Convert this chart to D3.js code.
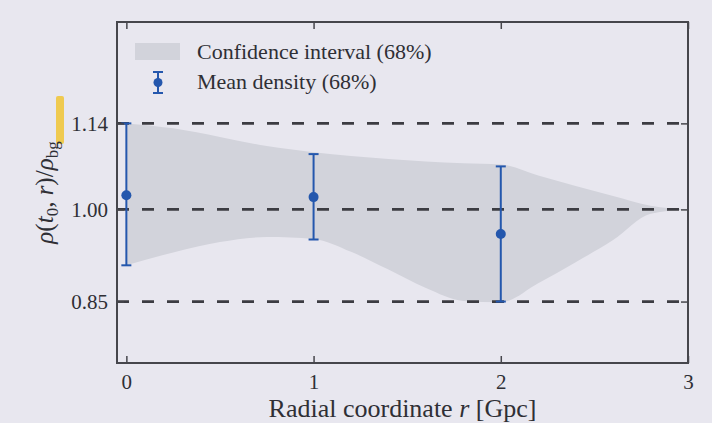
<!DOCTYPE html>
<html>
<head>
<meta charset="utf-8">
<script src="https://cdn.jsdelivr.net/npm/d3@7"></script>
<style>
    body { margin: 0; background: #e8e7ef; }
    svg { display: block; }
    svg text { font-family: "Liberation Serif", "Times New Roman", serif; }
</style>
</head>
<body>
<div id="chart"></div>
<script>
// radial coordinate samples for the shaded band (Gpc)
const bandR = [0, 0.25, 0.5, 0.75, 1.0, 1.2, 1.4, 1.6, 1.8, 2.0, 2.2, 2.4, 2.6, 2.8, 3.0];
const bandHigh = [1.140, 1.132, 1.118, 1.103, 1.093, 1.087, 1.082, 1.078, 1.075, 1.073, 1.055, 1.038, 1.022, 1.006, 1.0];
const bandLow = [0.909, 0.930, 0.947, 0.955, 0.952, 0.931, 0.902, 0.872, 0.851, 0.849, 0.880, 0.914, 0.950, 0.993, 1.0];

// mean density points with 68% error bars
const meanR = [0, 1, 2];
const meanVal = [1.023, 1.020, 0.960];
const meanLow = [0.909, 0.951, 0.850];
const meanHigh = [1.140, 1.090, 1.070];

const xTicks = [0, 1, 2, 3];
const yTicks = [0.85, 1.00, 1.14];
const refLines = [0.85, 1.00, 1.14];

const legendLabels = ['Confidence interval (68%)', 'Mean density (68%)'];

const COLORS = {
    bg: '#e8e7ef',
    band: '#d2d3db',
    frame: '#46464c',
    dash: '#3c3c42',
    text: '#2f2f35',
    blue: '#2457ad',
    marker: '#f0c63e'
}

const W = 712, H = 423;
const margin = { left: 117, right: 24, top: 22, bottom: 60 };

var svg = d3.select('#chart').append('svg')
    .attr('width', W)
    .attr('height', H);

svg.append('rect')
    .attr('width', W)
    .attr('height', H)
    .style('fill', COLORS.bg);

var x = d3.scaleLinear().domain([-0.05, 3]).range([margin.left, W - margin.right]);
var y = d3.scaleLinear().domain([0.75, 1.305]).range([H - margin.bottom, margin.top]);

// shaded confidence band
var bandData = bandR.map((r, i) => ({ r: r, lo: bandLow[i], hi: bandHigh[i] }));
var area = d3.area()
    .x(d => x(d.r))
    .y0(d => y(d.lo))
    .y1(d => y(d.hi))
    .curve(d3.curveMonotoneX);

svg.append('path')
    .datum(bandData)
    .attr('d', area)
    .style('fill', COLORS.band)
    .style('stroke', 'none');

// dashed reference lines
svg.selectAll('.refLine')
    .data(refLines)
    .enter()
    .append('line')
    .attr('class', 'refLine')
    .attr('x1', x.range()[0])
    .attr('x2', x.range()[1])
    .attr('y1', d => y(d))
    .attr('y2', d => y(d))
    .style('stroke', COLORS.dash)
    .style('stroke-width', 2.8)
    .style('stroke-dasharray', '12,13');

// error bars
var meanData = meanR.map((r, i) => ({ r: r, v: meanVal[i], lo: meanLow[i], hi: meanHigh[i] }));
var bars = svg.selectAll('.errBar')
    .data(meanData)
    .enter()
    .append('g')
    .attr('class', 'errBar');

bars.append('line')
    .attr('x1', d => x(d.r)).attr('x2', d => x(d.r))
    .attr('y1', d => y(d.lo)).attr('y2', d => y(d.hi))
    .style('stroke', COLORS.blue)
    .style('stroke-width', 2);

['lo', 'hi'].forEach(k => {
    bars.append('line')
        .attr('x1', d => x(d.r) - 5).attr('x2', d => x(d.r) + 5)
        .attr('y1', d => y(d[k])).attr('y2', d => y(d[k]))
        .style('stroke', COLORS.blue)
        .style('stroke-width', 2);
});

bars.append('circle')
    .attr('cx', d => x(d.r))
    .attr('cy', d => y(d.v))
    .attr('r', 5)
    .style('fill', COLORS.blue);

// axes, ticks pointing inward
var xAxis = svg.append('g')
    .attr('transform', 'translate(0,' + y.range()[0] + ')')
    .call(d3.axisBottom(x).tickValues(xTicks).tickSize(-7).tickPadding(11).tickFormat(d3.format('d')));
var xAxisTop = svg.append('g')
    .attr('transform', 'translate(0,' + y.range()[1] + ')')
    .call(d3.axisTop(x).tickValues(xTicks).tickSize(-7).tickFormat(''));
var yAxis = svg.append('g')
    .attr('transform', 'translate(' + x.range()[0] + ',0)')
    .call(d3.axisLeft(y).tickValues(yTicks).tickSize(-7).tickPadding(9).tickFormat(d3.format('.2f')));
var yAxisRight = svg.append('g')
    .attr('transform', 'translate(' + x.range()[1] + ',0)')
    .call(d3.axisRight(y).tickValues(yTicks).tickSize(-7).tickFormat(''));

[xAxis, xAxisTop, yAxis, yAxisRight].forEach(g => {
    g.attr('font-family', null);
    g.select('.domain').remove();
    g.selectAll('.tick line').style('stroke', COLORS.frame).style('stroke-width', 1.5);
    g.selectAll('.tick text')
        .style('font-size', '21px')
        .style('fill', COLORS.text);
});

// frame
svg.append('rect')
    .attr('x', x.range()[0])
    .attr('y', y.range()[1])
    .attr('width', x.range()[1] - x.range()[0])
    .attr('height', y.range()[0] - y.range()[1])
    .style('fill', 'none')
    .style('stroke', COLORS.frame)
    .style('stroke-width', 2);

// axis titles
var xTitle = svg.append('text')
    .attr('x', (x.range()[0] + x.range()[1]) / 2)
    .attr('y', 417)
    .attr('text-anchor', 'middle')
    .style('font-size', '26px')
    .style('fill', COLORS.text);
xTitle.append('tspan').text('Radial coordinate ');
xTitle.append('tspan').style('font-style', 'italic').text('r');
xTitle.append('tspan').text(' [Gpc]');

// highlighter mark on the printed page
svg.append('rect')
    .attr('x', 56)
    .attr('y', 96)
    .attr('width', 8)
    .attr('height', 48)
    .attr('rx', 2)
    .style('fill', COLORS.marker)
    .style('opacity', 0.9);

var yTitle = svg.append('text')
    .attr('transform', 'translate(53,' + ((y.range()[0] + y.range()[1]) / 2) + ') rotate(-90)')
    .attr('text-anchor', 'middle')
    .style('font-size', '25px')
    .style('fill', COLORS.text);
yTitle.append('tspan').style('font-style', 'italic').text('ρ');
yTitle.append('tspan').text('(');
yTitle.append('tspan').style('font-style', 'italic').text('t');
yTitle.append('tspan').attr('dy', 5).style('font-size', '17px').text('0');
yTitle.append('tspan').attr('dy', -5).text(', ');
yTitle.append('tspan').style('font-style', 'italic').text('r');
yTitle.append('tspan').text(')/');
yTitle.append('tspan').style('font-style', 'italic').text('ρ');
yTitle.append('tspan').attr('dy', 5).style('font-size', '17px').text('bg');

// legend
var legend = svg.append('g').attr('class', 'legend');
legend.append('rect')
    .attr('x', 135).attr('y', 43)
    .attr('width', 45).attr('height', 17)
    .style('fill', COLORS.band);

var lx = 158;
legend.append('line')
    .attr('x1', lx).attr('x2', lx).attr('y1', 72).attr('y2', 93)
    .style('stroke', COLORS.blue).style('stroke-width', 2);
[72, 93].forEach(cy => {
    legend.append('line')
        .attr('x1', lx - 5).attr('x2', lx + 5).attr('y1', cy).attr('y2', cy)
        .style('stroke', COLORS.blue).style('stroke-width', 2);
});
legend.append('circle')
    .attr('cx', lx).attr('cy', 82.5).attr('r', 4.5)
    .style('fill', COLORS.blue);

legend.selectAll('.legendText')
    .data(legendLabels)
    .enter()
    .append('text')
    .attr('class', 'legendText')
    .attr('x', 197)
    .attr('y', (d, i) => 59 + i * 30)
    .style('font-size', '22px')
    .style('fill', COLORS.text)
    .text(d => d);
</script>
</body>
</html>
